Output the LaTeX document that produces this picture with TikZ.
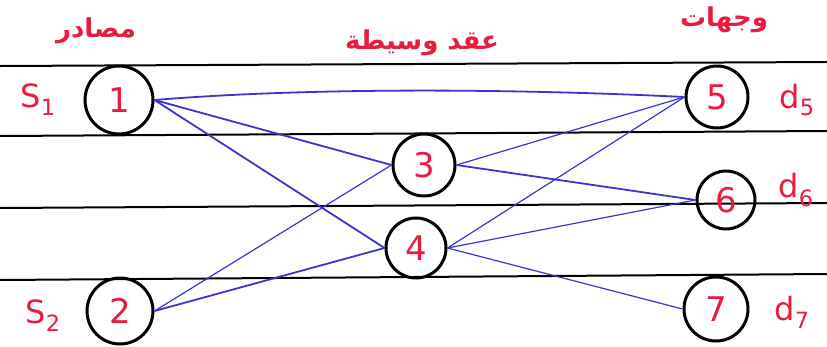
\documentclass[tikz,border=0pt]{standalone}
\usepackage{fontspec}
\setmainfont{DejaVu Sans}
\newfontfamily\arabicfont[Script=Arabic]{DejaVu Sans}
\TeXXeTstate=1
\definecolor{inkred}{RGB}{232,28,62}
\definecolor{inkblue}{RGB}{62,52,205}
\tikzset{
  nodecircle/.style={circle,draw=black,line width=3pt,minimum size=62pt,inner sep=0pt,text=inkred,font=\fontsize{34}{36}\selectfont},
  ruleline/.style={black,line width=2pt},
  edge/.style={inkblue,line width=1.8pt},
  thinedge/.style={inkblue,line width=1.2pt},
  redlabel/.style={text=inkred,font=\fontsize{32}{34}\selectfont},
  arlabel/.style={text=inkred,font=\arabicfont\bfseries\fontsize{26}{30}\selectfont}
}
\begin{document}
\begin{tikzpicture}[x=1pt,y=-1pt]
\useasboundingbox (0,0) rectangle (827,346);
% ruled lines
\draw[ruleline] (0,66) -- (827,62);
\draw[ruleline] (0,136) -- (827,131);
\draw[ruleline] (0,208) -- (827,203);
\draw[ruleline] (0,280) -- (827,274);
% nodes
\node[nodecircle,minimum size=68pt] (n1) at (119,100) {1};
\node[nodecircle,minimum size=66pt] (n2) at (120,311) {2};
\node[nodecircle] (n3) at (424,165) {3};
\node[nodecircle,minimum size=60pt] (n4) at (416,248) {4};
\node[nodecircle] (n5) at (717,97) {5};
\node[nodecircle,minimum size=58pt] (n6) at (726,200) {6};
\node[nodecircle,minimum size=64pt] (n7) at (716,309) {7};
% labels
\node[redlabel] (s1) at (38,100) {S\textsubscript{1}};
\node[redlabel] (s2) at (43,316) {S\textsubscript{2}};
\node[redlabel] (d5) at (797,100) {d\textsubscript{5}};
\node[redlabel] (d6) at (796,190) {d\textsubscript{6}};
\node[redlabel] (d7) at (792,312) {d\textsubscript{7}};
\node[arlabel] (ar1) at (96,31) {\beginR مصادر\endR};
\node[arlabel] (ar2) at (422,43) {\beginR عقد وسيطة\endR};
\node[arlabel] (ar3) at (724,20) {\beginR وجهات\endR};
% connectors
\draw[edge] (n1.east) .. controls (300,88) and (500,88) .. (n5.west);
\draw[edge] (n1.east) -- (n3.west);
\draw[edge] (n1.east) -- (n4.west);
\draw[thinedge] (n2.east) -- (n3.west);
\draw[edge] (n2.east) -- (n4.west);
\draw[thinedge] (n3.east) -- (n5.west);
\draw[edge] (n3.east) -- (n6.west);
\draw[thinedge] (n4.east) -- (n5.west);
\draw[thinedge] (n4.east) -- (n6.west);
\draw[thinedge] (n4.east) -- (n7.west);
\end{tikzpicture}
\end{document}
